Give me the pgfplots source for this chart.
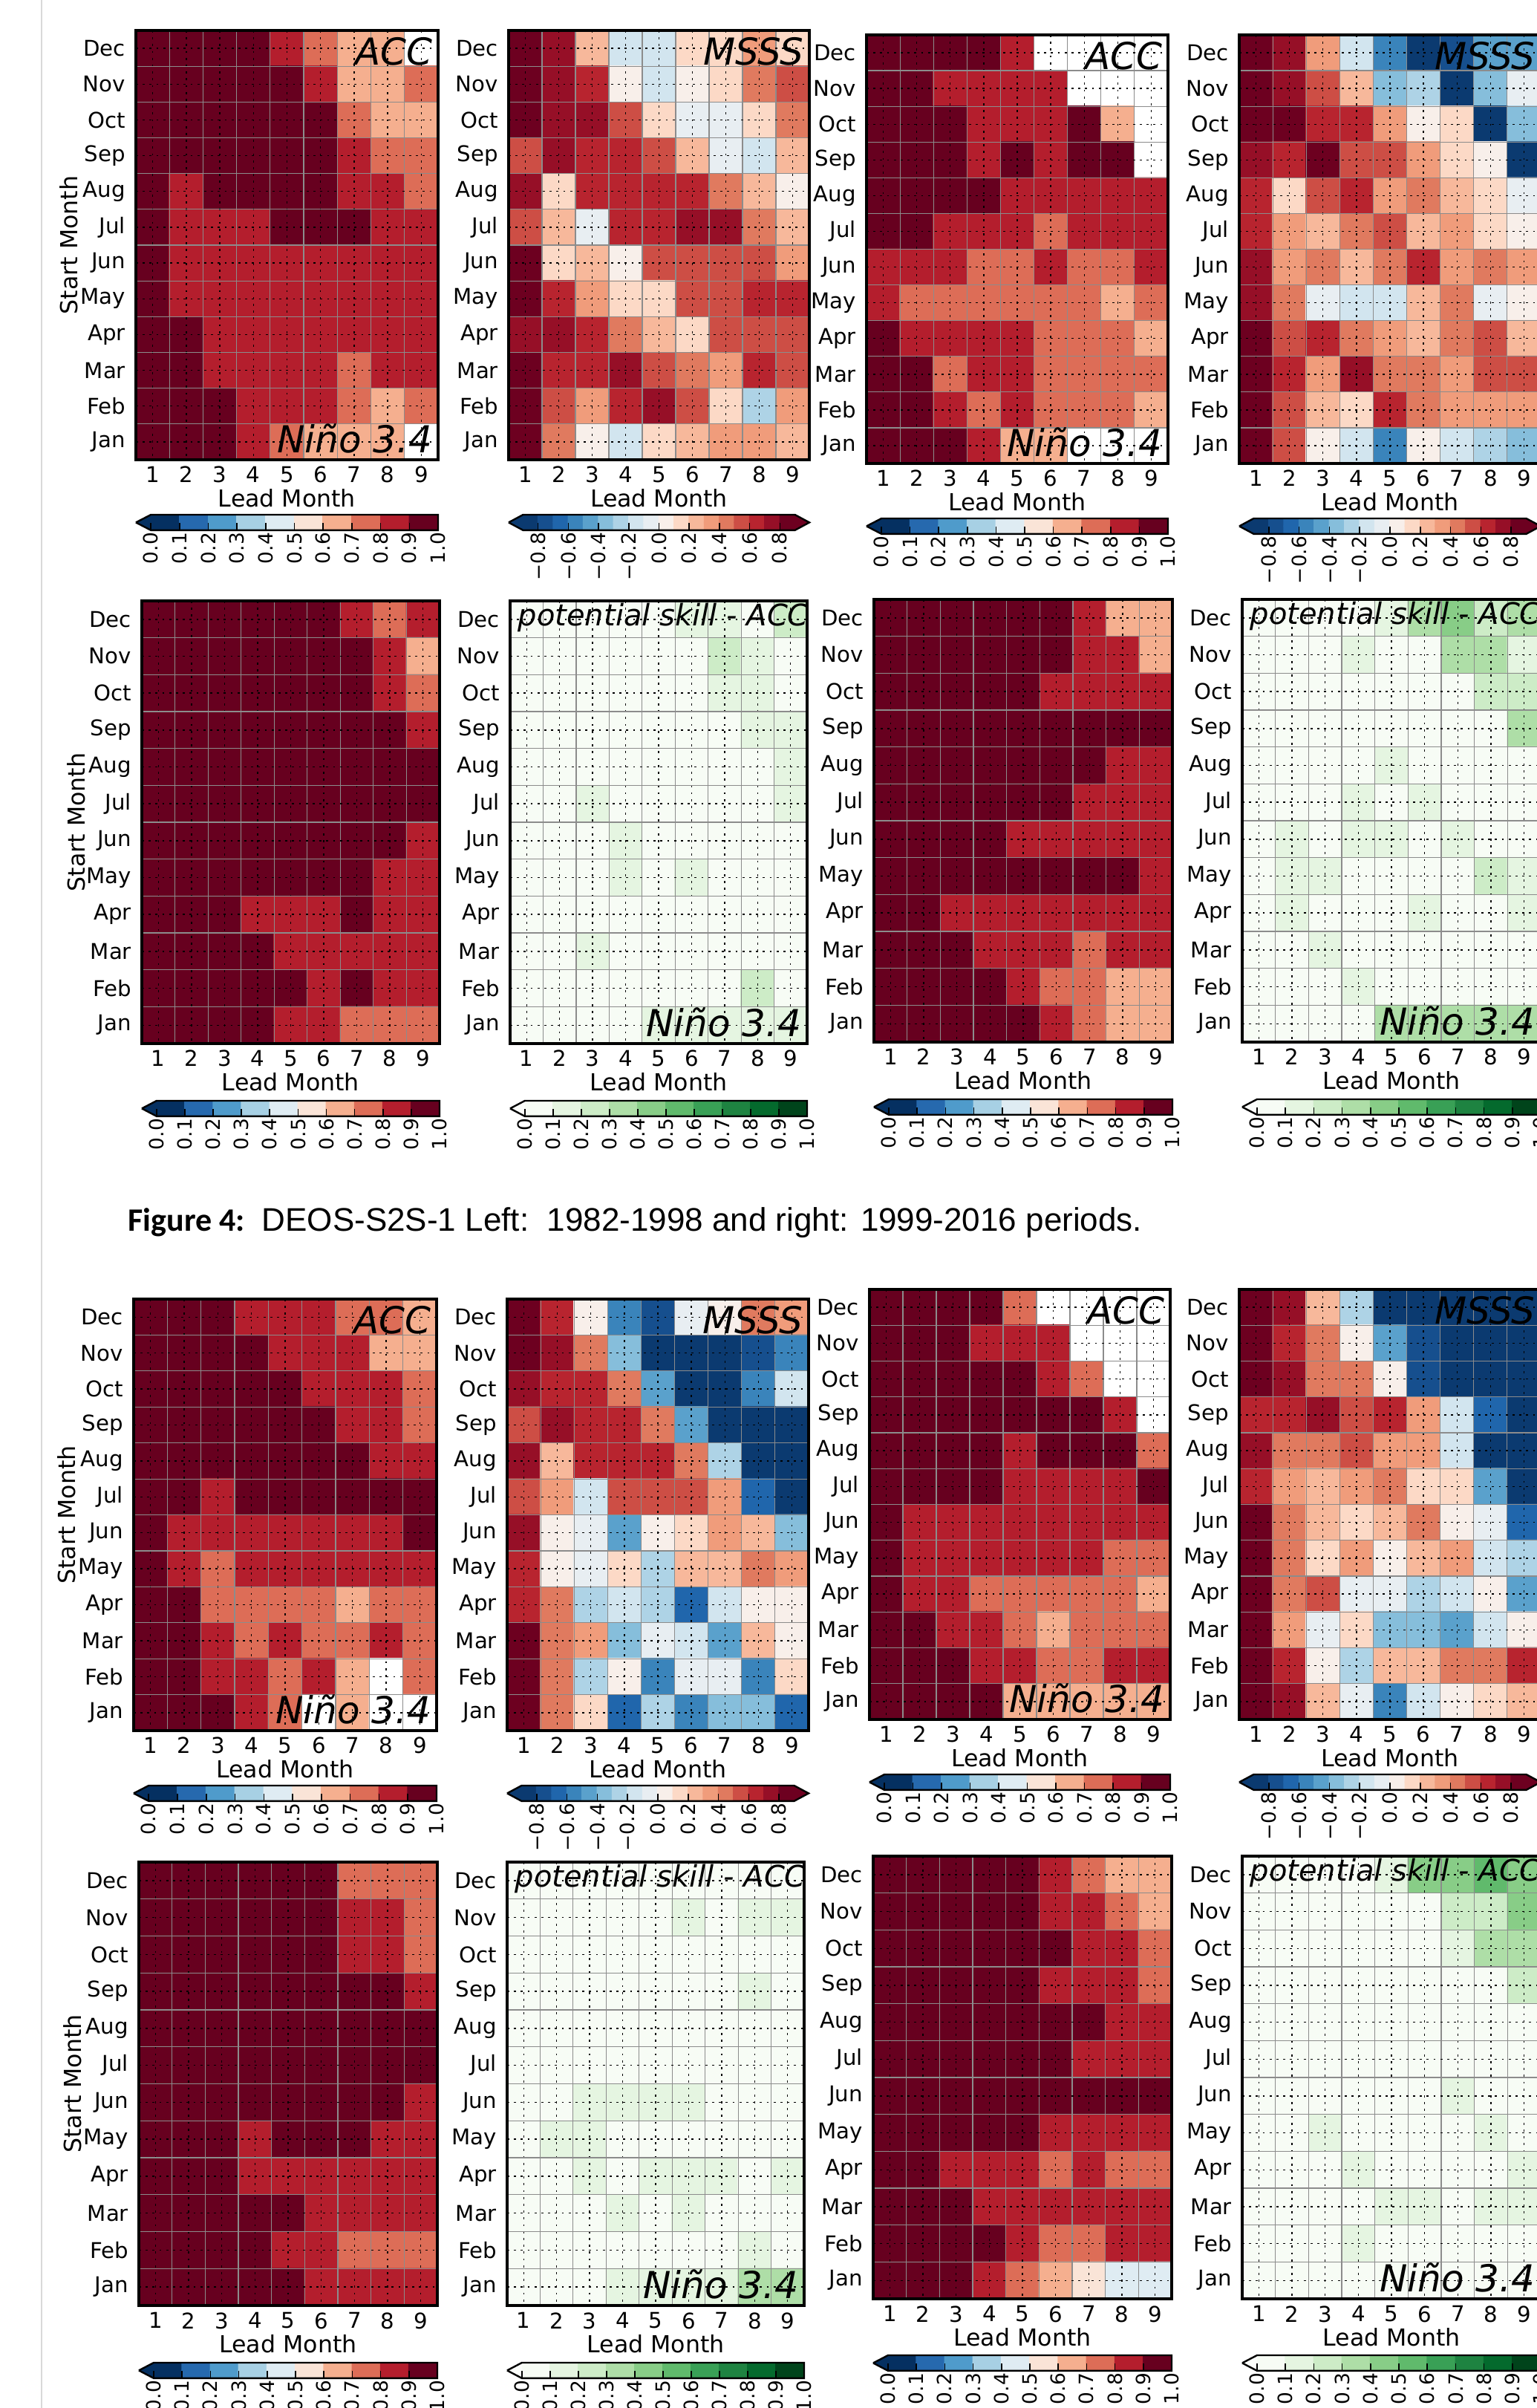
\documentclass[border=0pt]{standalone}
\usepackage{pgfplots}
\usepackage{pgfplotstable}
\pgfplotsset{compat=1.18}
\usepackage{fontspec}
\setmainfont{DejaVu Sans}
\newfontfamily\carlito{Carlito}
\newfontfamily\libsans{Liberation Sans}

\newcommand\ticklab{\fontsize{7.3bp}{8.5bp}\selectfont}
\newcommand\axlab{\fontsize{7.9bp}{9bp}\selectfont}
\newcommand\cbfont{\fontsize{6.6bp}{7.5bp}\selectfont}
\newcommand\biglab{\fontsize{12.5bp}{14bp}\selectfont\itshape}
\newcommand\potlab{\fontsize{10bp}{12bp}\selectfont\itshape}

\definecolor{accL}{RGB}{5,48,97}
\definecolor{msssL}{RGB}{11,58,112}
\definecolor{msssR}{RGB}{109,0,32}
\definecolor{potL}{RGB}{252,254,251}

\pgfplotsset{
 colormap={acc}{rgb255=(255,255,255) rgb255=(5,48,97) rgb255=(38,105,174) rgb255=(79,155,203) rgb255=(167,208,228) rgb255=(223,236,243) rgb255=(250,228,215) rgb255=(245,175,143) rgb255=(221,109,87) rgb255=(180,30,45) rgb255=(103,0,31)},
 colormap={msss}{rgb255=(11,58,112) rgb255=(22,79,142) rgb255=(32,102,172) rgb255=(58,132,187) rgb255=(90,161,204) rgb255=(134,190,219) rgb255=(174,211,230) rgb255=(210,229,239) rgb255=(232,238,242) rgb255=(248,239,234) rgb255=(252,217,198) rgb255=(247,184,155) rgb255=(240,156,123) rgb255=(224,122,95) rgb255=(205,78,69) rgb255=(184,36,47) rgb255=(150,15,39) rgb255=(109,0,32)},
 colormap={pot}{rgb255=(247,252,245) rgb255=(229,245,225) rgb255=(205,236,199) rgb255=(174,222,167) rgb255=(136,205,135) rgb255=(96,186,108) rgb255=(57,160,86) rgb255=(30,131,65) rgb255=(4,106,45) rgb255=(0,68,27)},
}

\pgfplotsset{
 heat/.style={scale only axis, anchor=north west,
   xmin=0.5, xmax=9.5, ymin=0.5, ymax=12.5, y dir=reverse,
   xtick={1,2,3,4,5,6,7,8,9}, xticklabels={1,2,3,4,5,6,7,8,9},
   ytick={1,2,3,4,5,6,7,8,9,10,11,12},
   yticklabels={Dec,Nov,Oct,Sep,Aug,Jul,Jun,May,Apr,Mar,Feb,Jan},
   minor xtick={1.5,2.5,3.5,4.5,5.5,6.5,7.5,8.5},
   minor ytick={1.5,2.5,3.5,4.5,5.5,6.5,7.5,8.5,9.5,10.5,11.5},
   grid=both, axis on top,
   major grid style={black, line width=0.35bp, dash pattern=on 0.7bp off 1.6bp},
   minor grid style={black!45, line width=0.3bp},
   major tick length=0pt, minor tick length=0pt,
   axis line style={line width=0.8bp},
   tick label style={font=\ticklab},
   xticklabel style={yshift=1.2bp},
   xlabel={Lead Month},
   xlabel style={at={(axis description cs:0.5,0)}, anchor=center, yshift=-12.8bp, font=\axlab},
   colormap access=direct},
 accmap/.style={colormap name=acc},
 msssmap/.style={colormap name=msss},
 potmap/.style={colormap name=pot},
 accplot/.style={matrix plot*, mesh/cols=9, point meta={floor(10*\thisrowno{0})+1}},
 msssplot/.style={matrix plot*, mesh/cols=9, point meta={floor(10*\thisrowno{0})+9}},
 potplot/.style={matrix plot*, mesh/cols=9, point meta={floor(10*\thisrowno{0})}},
 startmonth/.style={ylabel={Start Month},
   ylabel style={at={(axis description cs:-0.221,0.5)}, anchor=center, font=\axlab}},
 lACC/.style={extra description/.append code={\node[anchor=base east, font=\biglab, inner sep=0pt, xshift=-1.75bp, yshift=-11.5bp] at (axis description cs:1,1) {ACC};}},
 lMSSS/.style={extra description/.append code={\node[anchor=base east, font=\biglab, inner sep=0pt, xshift=-1.75bp, yshift=-11.5bp] at (axis description cs:1,1) {MSSS};}},
 lNino/.style={extra description/.append code={\node[anchor=base east, font=\biglab, inner sep=0pt, xshift=-1.75bp, yshift=2.4bp] at (axis description cs:1,0) {Niño 3.4};}},
 lPot/.style={extra description/.append code={\node[anchor=base west, font=\potlab, inner sep=0pt, xshift=2.5bp, yshift=-8.25bp] at (axis description cs:0,1) {potential skill - ACC};}},
 cbarbase/.style={scale only axis, anchor=north west, height=5.2bp, ymin=0, ymax=1, clip=false,
   axis x line*=bottom, axis y line=none, x axis line style={draw=none}, ytick=\empty,
   axis on top, tick align=inside, major tick length=2.4bp,
   xtick style={draw=black, line width=0.4bp},
   xticklabel style={rotate=90, anchor=east, font=\cbfont, inner sep=0.6bp},
   colormap access=direct},
 acccbar/.style={colormap name=acc, xmin=-0.052, xmax=1,
   xtick={0,0.1,0.2,0.3,0.4,0.5,0.6,0.7,0.8,0.9,1},
   xticklabels={0.0,0.1,0.2,0.3,0.4,0.5,0.6,0.7,0.8,0.9,1.0}},
 potcbar/.style={colormap name=pot, xmin=-0.052, xmax=1,
   xtick={0,0.1,0.2,0.3,0.4,0.5,0.6,0.7,0.8,0.9,1},
   xticklabels={0.0,0.1,0.2,0.3,0.4,0.5,0.6,0.7,0.8,0.9,1.0}},
 mssscbar/.style={colormap name=msss, xmin=-0.995, xmax=0.995,
   xtick={-0.8,-0.6,-0.4,-0.2,0,0.2,0.4,0.6,0.8},
   xticklabels={−0.8,−0.6,−0.4,−0.2,0.0,0.2,0.4,0.6,0.8}},
}

% colour bar tables
\pgfplotstableread{
x y m
0.05 0.25 1
0.15 0.25 2
0.25 0.25 3
0.35 0.25 4
0.45 0.25 5
0.55 0.25 6
0.65 0.25 7
0.75 0.25 8
0.85 0.25 9
0.95 0.25 10
0.05 0.75 1
0.15 0.75 2
0.25 0.75 3
0.35 0.75 4
0.45 0.75 5
0.55 0.75 6
0.65 0.75 7
0.75 0.75 8
0.85 0.75 9
0.95 0.75 10
}\accbar
\pgfplotstableread{
x y m
0.05 0.25 0
0.15 0.25 1
0.25 0.25 2
0.35 0.25 3
0.45 0.25 4
0.55 0.25 5
0.65 0.25 6
0.75 0.25 7
0.85 0.25 8
0.95 0.25 9
0.05 0.75 0
0.15 0.75 1
0.25 0.75 2
0.35 0.75 3
0.45 0.75 4
0.55 0.75 5
0.65 0.75 6
0.75 0.75 7
0.85 0.75 8
0.95 0.75 9
}\potbar
\pgfplotstableread{
x y m
-0.85 0.25 0
-0.75 0.25 1
-0.65 0.25 2
-0.55 0.25 3
-0.45 0.25 4
-0.35 0.25 5
-0.25 0.25 6
-0.15 0.25 7
-0.05 0.25 8
0.05 0.25 9
0.15 0.25 10
0.25 0.25 11
0.35 0.25 12
0.45 0.25 13
0.55 0.25 14
0.65 0.25 15
0.75 0.25 16
0.85 0.25 17
-0.85 0.75 0
-0.75 0.75 1
-0.65 0.75 2
-0.55 0.75 3
-0.45 0.75 4
-0.35 0.75 5
-0.25 0.75 6
-0.15 0.75 7
-0.05 0.75 8
0.05 0.75 9
0.15 0.75 10
0.25 0.75 11
0.35 0.75 12
0.45 0.75 13
0.55 0.75 14
0.65 0.75 15
0.75 0.75 16
0.85 0.75 17
}\msssbar

\newcommand\acccbarplots{%
 \addplot[matrix plot*, mesh/cols=10, point meta=explicit] table[x=x, y=y, meta=m] {\accbar};
 \addplot[fill=accL, draw=none] coordinates {(-0.052,0.5) (0,0) (0,1)};
 \addplot[black, line width=0.6bp] coordinates {(-0.052,0.5) (0,1) (1,1) (1,0) (0,0) (-0.052,0.5)};
}
\newcommand\potcbarplots{%
 \addplot[matrix plot*, mesh/cols=10, point meta=explicit] table[x=x, y=y, meta=m] {\potbar};
 \addplot[fill=potL, draw=none] coordinates {(-0.052,0.5) (0,0) (0,1)};
 \addplot[black, line width=0.6bp] coordinates {(-0.052,0.5) (0,1) (1,1) (1,0) (0,0) (-0.052,0.5)};
}
\newcommand\mssscbarplots{%
 \addplot[matrix plot*, mesh/cols=18, point meta=explicit] table[x=x, y=y, meta=m] {\msssbar};
 \addplot[fill=msssL, draw=none] coordinates {(-0.995,0.5) (-0.9,0) (-0.9,1)};
 \addplot[fill=msssR, draw=none] coordinates {(0.995,0.5) (0.9,0) (0.9,1)};
 \addplot[black, line width=0.6bp] coordinates {(-0.995,0.5) (-0.9,1) (0.9,1) (0.995,0.5) (0.9,0) (-0.9,0) (-0.995,0.5)};
}

% #1 kind, #2 x (bp), #3 top (bp, measured down from the page top), #4 width, #5 height, #6 data, #7 extra options
\newcommand\heat[7]{%
 \begin{axis}[heat, #1map, at={(#2bp,{-100bp-#3bp})}, width=#4bp, height=#5bp, #7]
  \addplot[#1plot] table[x index=0, y index=0, x expr={mod(\coordindex,9)+1}, y expr={floor((\coordindex+0.5)/9)+1}] {#6};
 \end{axis}}
% #1 kind, #2 x, #3 top, #4 width
\newcommand\cbar[4]{%
 \begin{axis}[cbarbase, #1cbar, at={(#2bp,{-100bp-#3bp})}, width=#4bp]
  \csname #1cbarplots\endcsname
 \end{axis}}

% ---------- data: rows Dec (top) ... Jan (bottom), columns lead month 1..9
% Row 1 (DEOS-S2S-1), left 1982-1998 ACC
\pgfplotstableread[row sep=\\,header=false]{
0.95\\0.95\\0.95\\0.95\\0.85\\0.75\\0.65\\0.65\\-0.05\\
0.95\\0.95\\0.95\\0.95\\0.95\\0.85\\0.65\\0.65\\0.75\\
0.95\\0.95\\0.95\\0.95\\0.95\\0.95\\0.75\\0.65\\0.65\\
0.95\\0.95\\0.95\\0.95\\0.95\\0.95\\0.85\\0.75\\0.75\\
0.95\\0.85\\0.95\\0.95\\0.95\\0.95\\0.85\\0.85\\0.75\\
0.95\\0.85\\0.85\\0.85\\0.95\\0.95\\0.95\\0.85\\0.85\\
0.95\\0.85\\0.85\\0.85\\0.85\\0.85\\0.85\\0.85\\0.85\\
0.95\\0.85\\0.85\\0.85\\0.85\\0.85\\0.85\\0.85\\0.85\\
0.95\\0.95\\0.85\\0.85\\0.85\\0.85\\0.85\\0.85\\0.85\\
0.95\\0.95\\0.85\\0.85\\0.85\\0.85\\0.75\\0.85\\0.85\\
0.95\\0.95\\0.95\\0.85\\0.85\\0.85\\0.75\\0.65\\0.75\\
0.95\\0.95\\0.95\\0.85\\0.75\\0.65\\0.65\\0.65\\-0.05\\
}\dAA
% left MSSS
\pgfplotstableread[row sep=\\,header=false]{
0.85\\0.75\\0.25\\-0.15\\-0.15\\0.15\\0.15\\0.35\\0.15\\
0.85\\0.75\\0.65\\0.05\\-0.15\\0.05\\0.15\\0.45\\0.55\\
0.85\\0.75\\0.75\\0.55\\0.15\\-0.05\\-0.05\\0.15\\0.45\\
0.55\\0.75\\0.65\\0.65\\0.55\\0.25\\-0.05\\-0.15\\0.25\\
0.75\\0.15\\0.65\\0.65\\0.65\\0.65\\0.45\\0.25\\0.05\\
0.55\\0.25\\-0.05\\0.65\\0.65\\0.75\\0.75\\0.45\\0.25\\
0.85\\0.15\\0.25\\0.05\\0.55\\0.55\\0.55\\0.55\\0.35\\
0.85\\0.65\\0.35\\0.15\\0.15\\0.55\\0.55\\0.65\\0.65\\
0.75\\0.75\\0.65\\0.45\\0.25\\0.15\\0.55\\0.55\\0.55\\
0.85\\0.65\\0.65\\0.75\\0.55\\0.45\\0.35\\0.65\\0.55\\
0.85\\0.55\\0.35\\0.65\\0.75\\0.55\\0.15\\-0.25\\0.35\\
0.85\\0.45\\0.05\\-0.15\\0.15\\0.25\\0.35\\0.35\\0.25\\
}\dAB
% right 1999-2016 ACC
\pgfplotstableread[row sep=\\,header=false]{
0.95\\0.95\\0.95\\0.95\\0.85\\-0.05\\-0.05\\-0.05\\-0.05\\
0.95\\0.95\\0.85\\0.85\\0.85\\0.85\\-0.05\\-0.05\\-0.05\\
0.95\\0.95\\0.95\\0.85\\0.85\\0.85\\0.95\\0.65\\-0.05\\
0.95\\0.95\\0.95\\0.85\\0.95\\0.85\\0.95\\0.95\\-0.05\\
0.95\\0.95\\0.95\\0.95\\0.85\\0.85\\0.85\\0.85\\0.85\\
0.95\\0.95\\0.85\\0.85\\0.85\\0.75\\0.85\\0.85\\0.85\\
0.85\\0.85\\0.85\\0.75\\0.75\\0.85\\0.75\\0.75\\0.85\\
0.85\\0.75\\0.75\\0.75\\0.75\\0.75\\0.75\\0.65\\0.75\\
0.95\\0.85\\0.85\\0.85\\0.85\\0.75\\0.75\\0.75\\0.65\\
0.95\\0.95\\0.75\\0.85\\0.85\\0.75\\0.75\\0.75\\0.75\\
0.95\\0.95\\0.85\\0.75\\0.85\\0.75\\0.75\\0.75\\0.65\\
0.95\\0.95\\0.95\\0.85\\0.65\\0.65\\-0.05\\-0.05\\-0.05\\
}\dAC
% right MSSS
\pgfplotstableread[row sep=\\,header=false]{
0.85\\0.75\\0.35\\-0.15\\-0.55\\-0.85\\-0.75\\-0.45\\-0.45\\
0.85\\0.75\\0.55\\0.25\\-0.35\\-0.25\\-0.85\\-0.35\\-0.05\\
0.85\\0.85\\0.65\\0.65\\0.35\\0.05\\0.15\\-0.85\\-0.35\\
0.75\\0.65\\0.85\\0.55\\0.55\\0.35\\0.15\\0.05\\-0.85\\
0.65\\0.15\\0.55\\0.65\\0.35\\0.45\\0.25\\0.15\\-0.05\\
0.65\\0.35\\0.25\\0.45\\0.55\\0.25\\0.35\\0.15\\0.05\\
0.75\\0.35\\0.45\\0.25\\0.45\\0.65\\0.35\\0.45\\0.35\\
0.75\\0.45\\-0.05\\-0.15\\-0.15\\0.25\\0.45\\-0.05\\0.05\\
0.85\\0.55\\0.65\\0.45\\0.35\\0.25\\0.45\\0.55\\0.25\\
0.85\\0.65\\0.35\\0.75\\0.45\\0.45\\0.35\\0.55\\0.55\\
0.85\\0.55\\0.25\\0.15\\0.65\\0.45\\0.35\\0.35\\0.35\\
0.85\\0.55\\0.05\\-0.15\\-0.55\\0.05\\-0.15\\-0.25\\-0.35\\
}\dAD
% Row 2: left ACC
\pgfplotstableread[row sep=\\,header=false]{
0.95\\0.95\\0.95\\0.95\\0.95\\0.95\\0.85\\0.75\\0.85\\
0.95\\0.95\\0.95\\0.95\\0.95\\0.95\\0.95\\0.85\\0.65\\
0.95\\0.95\\0.95\\0.95\\0.95\\0.95\\0.95\\0.85\\0.75\\
0.95\\0.95\\0.95\\0.95\\0.95\\0.95\\0.95\\0.95\\0.85\\
0.95\\0.95\\0.95\\0.95\\0.95\\0.95\\0.95\\0.95\\0.95\\
0.95\\0.95\\0.95\\0.95\\0.95\\0.95\\0.95\\0.95\\0.95\\
0.95\\0.95\\0.95\\0.95\\0.95\\0.95\\0.95\\0.95\\0.85\\
0.95\\0.95\\0.95\\0.95\\0.95\\0.95\\0.95\\0.85\\0.85\\
0.95\\0.95\\0.95\\0.85\\0.85\\0.85\\0.95\\0.85\\0.85\\
0.95\\0.95\\0.95\\0.95\\0.85\\0.85\\0.85\\0.85\\0.85\\
0.95\\0.95\\0.95\\0.95\\0.95\\0.85\\0.95\\0.85\\0.85\\
0.95\\0.95\\0.95\\0.95\\0.85\\0.85\\0.75\\0.75\\0.75\\
}\dBA
% left potential skill
\pgfplotstableread[row sep=\\,header=false]{
0.05\\0.05\\0.05\\0.05\\0.05\\0.15\\0.15\\0.05\\0.25\\
0.05\\0.05\\0.05\\0.05\\0.05\\0.05\\0.25\\0.15\\0.05\\
0.05\\0.05\\0.05\\0.05\\0.05\\0.05\\0.15\\0.15\\0.05\\
0.05\\0.05\\0.05\\0.05\\0.05\\0.05\\0.05\\0.15\\0.15\\
0.05\\0.05\\0.05\\0.05\\0.05\\0.05\\0.05\\0.05\\0.15\\
0.05\\0.05\\0.15\\0.05\\0.05\\0.05\\0.05\\0.05\\0.15\\
0.05\\0.05\\0.05\\0.15\\0.05\\0.05\\0.05\\0.05\\0.05\\
0.05\\0.05\\0.05\\0.15\\0.05\\0.15\\0.05\\0.05\\0.05\\
0.05\\0.05\\0.05\\0.05\\0.05\\0.05\\0.05\\0.05\\0.05\\
0.05\\0.05\\0.15\\0.05\\0.05\\0.05\\0.05\\0.05\\0.05\\
0.05\\0.05\\0.05\\0.05\\0.05\\0.05\\0.05\\0.25\\0.05\\
0.05\\0.05\\0.05\\0.05\\0.15\\0.15\\0.15\\0.15\\0.15\\
}\dBB
% right ACC
\pgfplotstableread[row sep=\\,header=false]{
0.95\\0.95\\0.95\\0.95\\0.95\\0.95\\0.85\\0.65\\0.65\\
0.95\\0.95\\0.95\\0.95\\0.95\\0.95\\0.85\\0.85\\0.65\\
0.95\\0.95\\0.95\\0.95\\0.95\\0.85\\0.85\\0.85\\0.85\\
0.95\\0.95\\0.95\\0.95\\0.95\\0.95\\0.95\\0.95\\0.95\\
0.95\\0.95\\0.95\\0.95\\0.95\\0.95\\0.95\\0.85\\0.85\\
0.95\\0.95\\0.95\\0.95\\0.95\\0.95\\0.85\\0.85\\0.85\\
0.95\\0.95\\0.95\\0.95\\0.85\\0.85\\0.85\\0.85\\0.85\\
0.95\\0.95\\0.95\\0.95\\0.95\\0.95\\0.95\\0.95\\0.85\\
0.95\\0.95\\0.85\\0.85\\0.85\\0.85\\0.85\\0.85\\0.85\\
0.95\\0.95\\0.95\\0.85\\0.85\\0.85\\0.75\\0.85\\0.85\\
0.95\\0.95\\0.95\\0.95\\0.85\\0.75\\0.75\\0.65\\0.65\\
0.95\\0.95\\0.95\\0.95\\0.95\\0.85\\0.75\\0.65\\0.65\\
}\dBC
% right potential skill
\pgfplotstableread[row sep=\\,header=false]{
0.05\\0.05\\0.05\\0.05\\0.15\\0.35\\0.45\\0.25\\0.35\\
0.05\\0.05\\0.05\\0.15\\0.05\\0.05\\0.35\\0.35\\0.15\\
0.05\\0.05\\0.05\\0.05\\0.05\\0.05\\0.05\\0.25\\0.25\\
0.05\\0.05\\0.05\\0.05\\0.05\\0.05\\0.05\\0.05\\0.35\\
0.05\\0.05\\0.05\\0.05\\0.15\\0.05\\0.05\\0.05\\0.05\\
0.05\\0.05\\0.05\\0.15\\0.05\\0.15\\0.05\\0.05\\0.05\\
0.05\\0.15\\0.05\\0.15\\0.15\\0.05\\0.15\\0.05\\0.05\\
0.05\\0.15\\0.15\\0.05\\0.05\\0.05\\0.05\\0.25\\0.15\\
0.05\\0.15\\0.05\\0.05\\0.05\\0.15\\0.05\\0.05\\0.15\\
0.05\\0.05\\0.15\\0.05\\0.05\\0.05\\0.05\\0.05\\0.05\\
0.05\\0.05\\0.05\\0.15\\0.05\\0.05\\0.05\\0.05\\0.05\\
0.05\\0.05\\0.05\\0.05\\0.35\\0.35\\0.35\\0.35\\0.35\\
}\dBD
% Row 3: left ACC
\pgfplotstableread[row sep=\\,header=false]{
0.95\\0.95\\0.95\\0.85\\0.85\\0.85\\0.75\\0.75\\0.65\\
0.95\\0.95\\0.95\\0.95\\0.85\\0.85\\0.85\\0.65\\0.65\\
0.95\\0.95\\0.95\\0.95\\0.95\\0.85\\0.85\\0.85\\0.75\\
0.95\\0.95\\0.95\\0.95\\0.95\\0.95\\0.85\\0.85\\0.75\\
0.95\\0.95\\0.95\\0.95\\0.95\\0.95\\0.95\\0.85\\0.85\\
0.95\\0.95\\0.85\\0.95\\0.95\\0.95\\0.95\\0.95\\0.95\\
0.95\\0.85\\0.85\\0.85\\0.85\\0.85\\0.85\\0.85\\0.95\\
0.95\\0.85\\0.75\\0.85\\0.85\\0.85\\0.85\\0.85\\0.85\\
0.95\\0.95\\0.75\\0.75\\0.75\\0.75\\0.65\\0.75\\0.75\\
0.95\\0.95\\0.85\\0.75\\0.85\\0.75\\0.75\\0.85\\0.75\\
0.95\\0.95\\0.85\\0.85\\0.75\\0.85\\0.65\\-0.05\\0.75\\
0.95\\0.95\\0.95\\0.85\\0.75\\-0.05\\0.65\\-0.05\\-0.05\\
}\dCA
% left MSSS
\pgfplotstableread[row sep=\\,header=false]{
0.85\\0.65\\0.05\\-0.55\\-0.75\\-0.05\\0.05\\0.45\\0.35\\
0.85\\0.75\\0.45\\-0.35\\-0.85\\-0.85\\-0.85\\-0.75\\-0.55\\
0.75\\0.65\\0.65\\0.45\\-0.45\\-0.85\\-0.85\\-0.55\\-0.15\\
0.55\\0.75\\0.65\\0.65\\0.45\\-0.45\\-0.85\\-0.85\\-0.85\\
0.75\\0.25\\0.65\\0.65\\0.65\\0.45\\-0.25\\-0.85\\-0.85\\
0.55\\0.35\\-0.15\\0.55\\0.55\\0.55\\0.35\\-0.65\\-0.85\\
0.75\\0.05\\-0.05\\-0.45\\0.05\\0.15\\0.35\\0.25\\-0.35\\
0.65\\0.05\\-0.05\\0.15\\-0.25\\0.25\\0.25\\0.45\\0.35\\
0.65\\0.45\\-0.25\\-0.15\\-0.25\\-0.65\\-0.15\\0.05\\0.05\\
0.85\\0.45\\0.35\\-0.35\\-0.05\\-0.15\\-0.45\\0.25\\0.05\\
0.85\\0.45\\-0.25\\0.05\\-0.55\\-0.05\\-0.05\\-0.55\\0.15\\
0.85\\0.45\\0.15\\-0.65\\-0.25\\-0.55\\-0.35\\-0.35\\-0.65\\
}\dCB
% right ACC
\pgfplotstableread[row sep=\\,header=false]{
0.95\\0.95\\0.95\\0.95\\0.75\\-0.05\\-0.05\\-0.05\\-0.05\\
0.95\\0.95\\0.95\\0.85\\0.85\\0.85\\-0.05\\-0.05\\-0.05\\
0.95\\0.95\\0.95\\0.95\\0.95\\0.85\\0.75\\-0.05\\-0.05\\
0.95\\0.95\\0.95\\0.95\\0.95\\0.95\\0.95\\0.85\\-0.05\\
0.95\\0.95\\0.95\\0.95\\0.85\\0.95\\0.95\\0.95\\0.75\\
0.95\\0.95\\0.95\\0.95\\0.85\\0.85\\0.85\\0.85\\0.95\\
0.95\\0.85\\0.85\\0.85\\0.85\\0.85\\0.85\\0.85\\0.85\\
0.95\\0.85\\0.85\\0.85\\0.85\\0.85\\0.85\\0.75\\0.75\\
0.95\\0.85\\0.85\\0.75\\0.75\\0.75\\0.75\\0.75\\0.65\\
0.95\\0.95\\0.85\\0.85\\0.75\\0.65\\0.75\\0.75\\0.75\\
0.95\\0.95\\0.95\\0.85\\0.85\\0.75\\0.75\\0.85\\0.85\\
0.95\\0.95\\0.95\\0.95\\0.65\\0.65\\0.65\\0.65\\0.65\\
}\dCC
% right MSSS
\pgfplotstableread[row sep=\\,header=false]{
0.85\\0.75\\0.25\\-0.25\\-0.85\\-0.85\\-0.85\\-0.85\\-0.85\\
0.85\\0.65\\0.45\\0.05\\-0.45\\-0.75\\-0.85\\-0.85\\-0.85\\
0.85\\0.75\\0.45\\0.45\\0.05\\-0.75\\-0.85\\-0.85\\-0.85\\
0.65\\0.65\\0.75\\0.55\\0.65\\0.35\\-0.15\\-0.65\\-0.85\\
0.75\\0.45\\0.45\\0.55\\0.35\\0.35\\-0.15\\-0.85\\-0.85\\
0.65\\0.35\\0.25\\0.35\\0.45\\0.15\\0.15\\-0.45\\-0.85\\
0.85\\0.45\\0.25\\0.15\\0.25\\0.45\\0.05\\-0.05\\-0.65\\
0.85\\0.45\\0.15\\0.35\\0.05\\0.25\\0.35\\-0.15\\-0.25\\
0.85\\0.45\\0.55\\-0.05\\-0.05\\-0.25\\-0.15\\0.05\\-0.45\\
0.85\\0.35\\-0.05\\0.15\\-0.35\\-0.35\\-0.45\\-0.15\\0.05\\
0.85\\0.65\\0.05\\-0.25\\0.25\\0.25\\0.45\\0.45\\0.65\\
0.85\\0.75\\0.25\\-0.05\\-0.55\\-0.15\\0.05\\0.15\\0.25\\
}\dCD
% Row 4: left ACC
\pgfplotstableread[row sep=\\,header=false]{
0.95\\0.95\\0.95\\0.95\\0.95\\0.95\\0.75\\0.75\\0.75\\
0.95\\0.95\\0.95\\0.95\\0.95\\0.95\\0.85\\0.85\\0.75\\
0.95\\0.95\\0.95\\0.95\\0.95\\0.95\\0.85\\0.85\\0.75\\
0.95\\0.95\\0.95\\0.95\\0.95\\0.95\\0.95\\0.95\\0.85\\
0.95\\0.95\\0.95\\0.95\\0.95\\0.95\\0.95\\0.95\\0.95\\
0.95\\0.95\\0.95\\0.95\\0.95\\0.95\\0.95\\0.95\\0.95\\
0.95\\0.95\\0.95\\0.95\\0.95\\0.95\\0.95\\0.95\\0.85\\
0.95\\0.95\\0.95\\0.85\\0.95\\0.95\\0.95\\0.85\\0.85\\
0.95\\0.95\\0.95\\0.85\\0.85\\0.85\\0.85\\0.85\\0.85\\
0.95\\0.95\\0.95\\0.95\\0.95\\0.85\\0.85\\0.85\\0.85\\
0.95\\0.95\\0.95\\0.95\\0.85\\0.85\\0.75\\0.75\\0.75\\
0.95\\0.95\\0.95\\0.95\\0.95\\0.85\\0.85\\0.85\\0.85\\
}\dDA
% left potential skill
\pgfplotstableread[row sep=\\,header=false]{
0.05\\0.05\\0.05\\0.05\\0.05\\0.05\\0.05\\0.05\\0.05\\
0.05\\0.05\\0.05\\0.05\\0.05\\0.15\\0.05\\0.15\\0.15\\
0.05\\0.05\\0.05\\0.05\\0.05\\0.05\\0.05\\0.05\\0.05\\
0.05\\0.05\\0.05\\0.05\\0.05\\0.05\\0.05\\0.15\\0.05\\
0.05\\0.05\\0.05\\0.05\\0.05\\0.05\\0.05\\0.05\\0.05\\
0.05\\0.05\\0.05\\0.05\\0.05\\0.05\\0.05\\0.05\\0.05\\
0.05\\0.05\\0.15\\0.15\\0.15\\0.15\\0.05\\0.05\\0.05\\
0.05\\0.15\\0.15\\0.05\\0.05\\0.05\\0.05\\0.05\\0.05\\
0.05\\0.05\\0.15\\0.05\\0.15\\0.15\\0.15\\0.05\\0.15\\
0.05\\0.05\\0.05\\0.15\\0.05\\0.15\\0.05\\0.05\\0.05\\
0.05\\0.05\\0.05\\0.05\\0.05\\0.05\\0.05\\0.15\\0.05\\
0.05\\0.05\\0.05\\0.15\\0.15\\0.15\\0.15\\0.35\\0.35\\
}\dDB
% right ACC
\pgfplotstableread[row sep=\\,header=false]{
0.95\\0.95\\0.95\\0.95\\0.95\\0.85\\0.75\\0.65\\0.65\\
0.95\\0.95\\0.95\\0.95\\0.95\\0.85\\0.85\\0.75\\0.65\\
0.95\\0.95\\0.95\\0.95\\0.95\\0.95\\0.85\\0.85\\0.75\\
0.95\\0.95\\0.95\\0.95\\0.95\\0.85\\0.85\\0.85\\0.75\\
0.95\\0.95\\0.95\\0.95\\0.95\\0.95\\0.95\\0.85\\0.85\\
0.95\\0.95\\0.95\\0.95\\0.95\\0.95\\0.85\\0.85\\0.85\\
0.95\\0.95\\0.95\\0.95\\0.95\\0.95\\0.95\\0.95\\0.95\\
0.95\\0.95\\0.95\\0.95\\0.95\\0.85\\0.85\\0.85\\0.85\\
0.95\\0.95\\0.85\\0.85\\0.85\\0.75\\0.85\\0.75\\0.75\\
0.95\\0.95\\0.95\\0.85\\0.85\\0.85\\0.85\\0.85\\0.85\\
0.95\\0.95\\0.95\\0.95\\0.85\\0.75\\0.75\\0.85\\0.85\\
0.95\\0.95\\0.95\\0.85\\0.75\\0.65\\0.55\\0.45\\0.45\\
}\dDC
% right potential skill
\pgfplotstableread[row sep=\\,header=false]{
0.05\\0.05\\0.05\\0.05\\0.15\\0.45\\0.45\\0.55\\0.45\\
0.05\\0.05\\0.05\\0.05\\0.05\\0.05\\0.25\\0.25\\0.45\\
0.05\\0.05\\0.05\\0.05\\0.05\\0.05\\0.15\\0.35\\0.35\\
0.05\\0.05\\0.05\\0.05\\0.05\\0.05\\0.05\\0.05\\0.25\\
0.05\\0.05\\0.05\\0.05\\0.05\\0.05\\0.05\\0.05\\0.05\\
0.05\\0.05\\0.05\\0.05\\0.05\\0.05\\0.05\\0.05\\0.05\\
0.05\\0.05\\0.05\\0.05\\0.05\\0.05\\0.15\\0.05\\0.05\\
0.05\\0.05\\0.15\\0.05\\0.05\\0.05\\0.05\\0.15\\0.05\\
0.05\\0.05\\0.05\\0.15\\0.05\\0.05\\0.05\\0.05\\0.15\\
0.05\\0.05\\0.05\\0.05\\0.15\\0.15\\0.05\\0.15\\0.15\\
0.05\\0.05\\0.05\\0.15\\0.05\\0.05\\0.05\\0.05\\0.05\\
0.05\\0.05\\0.05\\0.05\\0.05\\0.05\\0.05\\0.05\\0.05\\
}\dDD

\begin{document}
\begin{tikzpicture}
\path[use as bounding box] (0,-100bp) rectangle (517.5bp,-910.5bp);
\clip (0,-100bp) rectangle (517.5bp,-910.5bp);
\draw[black!15, line width=0.5bp] (14bp,-100bp) -- (14bp,-910.5bp);

% Row 1
\heat{acc}{45.75}{10.25}{101.75}{144.5}{\dAA}{startmonth, lACC, lNino}
\cbar{acc}{45.75}{173.25}{101.75}
\heat{msss}{171.25}{10.25}{101.25}{144.5}{\dAB}{lMSSS}
\cbar{msss}{171.25}{173.25}{101.25}
\heat{acc}{291.75}{11.75}{101.5}{144.25}{\dAC}{lACC, lNino}
\cbar{acc}{291.75}{174.5}{101.5}
\heat{msss}{417.25}{11.75}{101.5}{144.25}{\dAD}{lMSSS}
\cbar{msss}{417.25}{174.5}{101.5}

% Row 2
\heat{acc}{47.75}{202.25}{100.25}{149}{\dBA}{startmonth}
\cbar{acc}{47.75}{370.5}{100.25}
\heat{pot}{171.75}{202.25}{100}{149}{\dBB}{lPot, lNino}
\cbar{pot}{171.75}{370.5}{100}
\heat{acc}{294.25}{201.75}{100.5}{149}{\dBC}{}
\cbar{acc}{294.25}{370}{100.5}
\heat{pot}{418.25}{201.75}{100.5}{149}{\dBD}{lPot, lNino}
\cbar{pot}{418.25}{370}{100.5}

% caption
\node[anchor=base west, inner sep=0pt, font=\carlito\bfseries\fontsize{11bp}{13bp}\selectfont] at (43bp,-514.25bp) {Figure 4:};
\node[anchor=base west, inner sep=0pt, font=\libsans\fontsize{11bp}{13bp}\selectfont] at (88bp,-514.25bp) {DEOS-S2S-1 Left:\ \ 1982-1998 and right: 1999-2016 periods.};

% Row 3
\heat{acc}{45}{437.25}{102}{145.25}{\dCA}{startmonth, lACC, lNino}
\cbar{acc}{45}{601}{102}
\heat{msss}{170.75}{437.25}{101.5}{145.25}{\dCB}{lMSSS}
\cbar{msss}{170.75}{601}{101.5}
\heat{acc}{292.75}{434}{101.25}{144.75}{\dCC}{lACC, lNino}
\cbar{acc}{292.75}{597.25}{101.25}
\heat{msss}{417.25}{434}{101.5}{144.75}{\dCD}{lMSSS}
\cbar{msss}{417.25}{597.25}{101.5}

% Row 4
\heat{acc}{46.75}{626.75}{100.5}{149.25}{\dDA}{startmonth}
\cbar{acc}{46.75}{795.25}{100.5}
\heat{pot}{170.75}{626.75}{100}{149.25}{\dDB}{lPot, lNino}
\cbar{pot}{170.75}{795.25}{100}
\heat{acc}{294}{624.75}{100.5}{149}{\dDC}{}
\cbar{acc}{294}{792.75}{100.5}
\heat{pot}{418.25}{624.75}{100.5}{149}{\dDD}{lPot, lNino}
\cbar{pot}{418.25}{792.75}{100.5}
\end{tikzpicture}
\end{document}
